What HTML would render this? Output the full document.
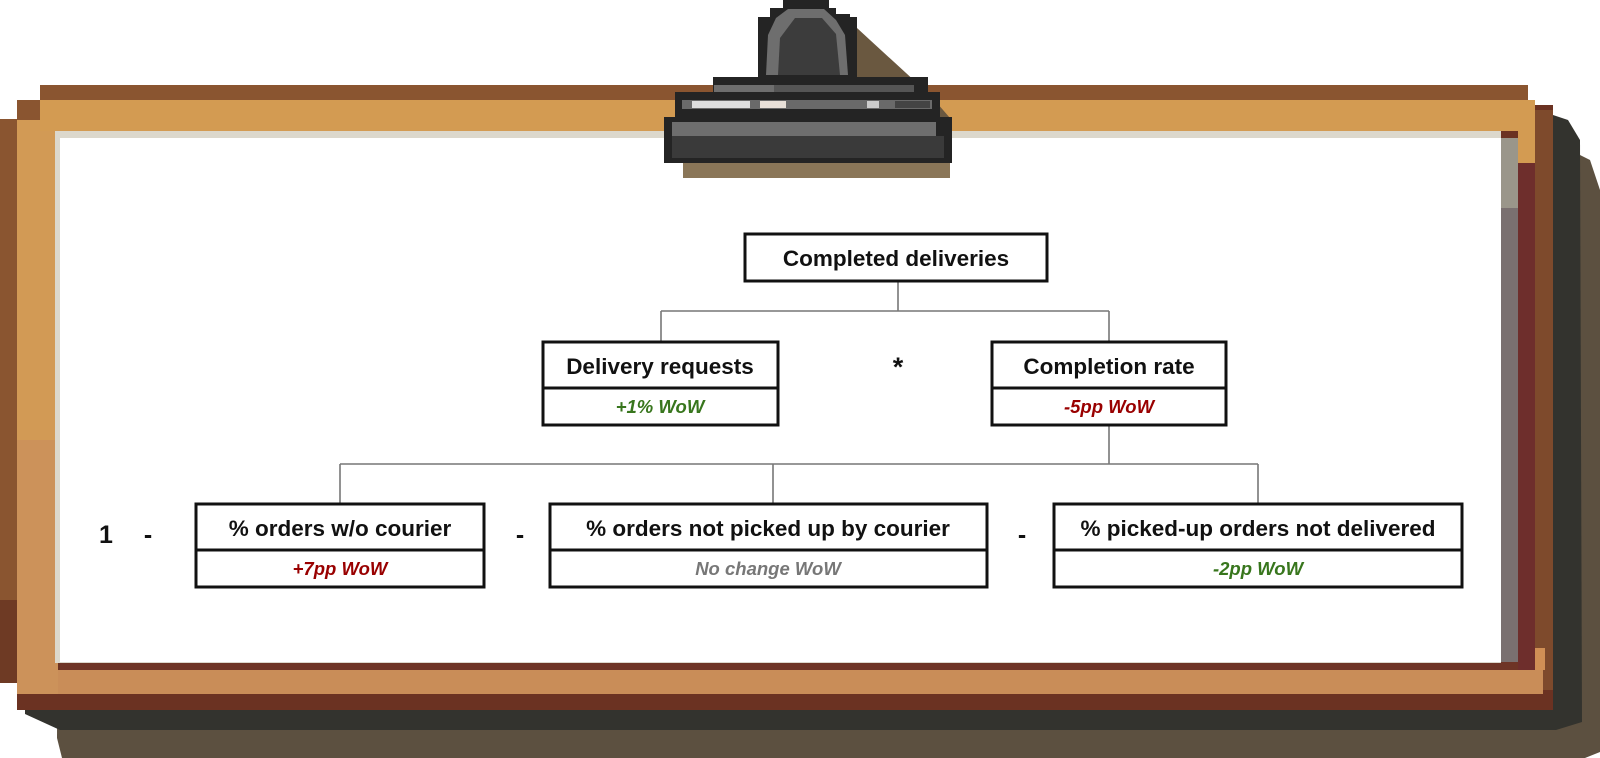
<!DOCTYPE html>
<html><head><meta charset="utf-8"><style>
html,body{margin:0;padding:0;background:#fff;}
svg{display:block;}
text{font-family:"Liberation Sans",Arial,sans-serif;}
.t{font-size:22.5px;font-weight:bold;fill:#111;text-anchor:middle;}
.w{font-size:18.5px;font-weight:bold;font-style:italic;text-anchor:middle;}
.b{fill:#fff;stroke:#111;stroke-width:3;}
.c{stroke:#777;stroke-width:1.6;fill:none;}
</style></head><body>
<svg width="1600" height="758" viewBox="0 0 1600 758" xmlns="http://www.w3.org/2000/svg">
<!-- frame back layers -->
<path d="M1570 150 L1590 160 L1600 190 L1600 752 L1585 758 L62 758 L57 738 L60 160 Z" fill="#5c5040"/>
<path d="M40 115 L1553 115 L1568 120 L1580 140 L1582 722 L1556 730 L60 730 L25 714 L25 140 Z" fill="#33332e"/>
<rect x="17" y="105" width="1536" height="605" fill="#6b3222"/>
<rect x="1535" y="110" width="18" height="580" fill="#7e4a2c"/>
<!-- left dark brown -->
<rect x="0" y="119" width="17" height="564" fill="#8a5530"/>
<rect x="0" y="600" width="17" height="83" fill="#6e3a24"/>
<rect x="17" y="100" width="23" height="20" fill="#8a5530"/>
<rect x="40" y="85" width="1488" height="15" fill="#8a5530"/>
<!-- orange -->
<rect x="17" y="120" width="41" height="572" fill="#d29a55"/>
<rect x="40" y="100" width="1495" height="31" fill="#d39b52"/>
<rect x="1518" y="100" width="17" height="63" fill="#d39b52"/>
<rect x="40" y="670" width="1503" height="24" fill="#c98d58"/>
<rect x="1535" y="648" width="10" height="22" fill="#d08f55"/>
<rect x="17" y="440" width="41" height="254" fill="#cc925a"/>
<rect x="1518" y="163" width="17" height="507" fill="#6e2e2c"/>
<rect x="60" y="662" width="1458" height="8" fill="#6e3426"/>
<!-- cream & gray -->
<rect x="55" y="131" width="1446" height="532" fill="#dcd8cc"/>
<rect x="1501" y="138" width="17" height="524" fill="#7a7070"/>
<rect x="1501" y="138" width="17" height="70" fill="#9a968a"/>
<rect x="60" y="138" width="1441" height="524" fill="#ffffff"/>

<!-- clip -->
<path d="M857 28 L870 40 L930 95 L950 118 L950 165 L683 178 L683 163 Z" fill="#6a5840"/>
<rect x="683" y="160" width="267" height="18" fill="#8a7658"/>
<path d="M783 0 L829 0 L829 8 L836 8 L836 14 L850 14 L850 17 L857 17 L857 77 L928 77 L928 92 L940 92 L940 117 L952 117 L952 163 L664 163 L664 117 L675 117 L675 92 L713 92 L713 77 L758 77 L758 17 L770 17 L770 8 L783 8 Z" fill="#242424"/>
<path d="M788 9 L824 9 L836 20 L845 35 L848 75 L766 75 L768 35 L776 18 Z" fill="#6e6e6e"/>
<path d="M795 18 L822 18 L836 34 L840 75 L778 75 L780 38 Z" fill="#3c3c3c"/>
<rect x="714" y="85" width="200" height="7" fill="#555"/>
<rect x="714" y="85" width="60" height="7" fill="#6e6e6e"/>
<rect x="682" y="100" width="250" height="9" fill="#6a6a6a"/>
<rect x="692" y="101" width="58" height="7" fill="#ddd"/>
<rect x="760" y="101" width="26" height="7" fill="#e8e0d8"/>
<rect x="867" y="101" width="12" height="7" fill="#ccc"/>
<rect x="895" y="101" width="35" height="7" fill="#444"/>
<rect x="672" y="122" width="264" height="14" fill="#6e6e6e"/>
<rect x="672" y="136" width="272" height="22" fill="#3a3a3a"/>

<!-- connectors -->
<path class="c" d="M898 281 V311 M661 311 H1109 M661 311 V342 M1109 311 V342"/>
<path class="c" d="M1109 425 V464 M340 464 H1258 M340 464 V504 M773 464 V504 M1258 464 V504"/>

<!-- boxes -->
<rect class="b" x="745" y="234" width="302" height="47"/>
<text class="t" x="896" y="266">Completed deliveries</text>

<rect class="b" x="543" y="342" width="235" height="83"/>
<line x1="543" y1="388" x2="778" y2="388" stroke="#111" stroke-width="3"/>
<text class="t" x="660" y="374">Delivery requests</text>
<text class="w" x="660" y="413" fill="#38761d">+1% WoW</text>

<text x="898" y="376" style="font-size:27px;font-weight:bold;text-anchor:middle;fill:#111">*</text>

<rect class="b" x="992" y="342" width="234" height="83"/>
<line x1="992" y1="388" x2="1226" y2="388" stroke="#111" stroke-width="3"/>
<text class="t" x="1109" y="374">Completion rate</text>
<text class="w" x="1109" y="413" fill="#990000">-5pp WoW</text>

<text x="106" y="543" style="font-size:25px;font-weight:bold;text-anchor:middle;fill:#111">1</text>
<text x="148" y="543" style="font-size:25px;font-weight:bold;text-anchor:middle;fill:#111">-</text>
<text x="520" y="543" style="font-size:25px;font-weight:bold;text-anchor:middle;fill:#111">-</text>
<text x="1022" y="543" style="font-size:25px;font-weight:bold;text-anchor:middle;fill:#111">-</text>

<rect class="b" x="196" y="504" width="288" height="83"/>
<line x1="196" y1="550" x2="484" y2="550" stroke="#111" stroke-width="3"/>
<text class="t" x="340" y="536">% orders w/o courier</text>
<text class="w" x="340" y="575" fill="#990000">+7pp WoW</text>

<rect class="b" x="550" y="504" width="437" height="83"/>
<line x1="550" y1="550" x2="987" y2="550" stroke="#111" stroke-width="3"/>
<text class="t" x="768" y="536">% orders not picked up by courier</text>
<text class="w" x="768" y="575" fill="#777">No change WoW</text>

<rect class="b" x="1054" y="504" width="408" height="83"/>
<line x1="1054" y1="550" x2="1462" y2="550" stroke="#111" stroke-width="3"/>
<text class="t" x="1258" y="536">% picked-up orders not delivered</text>
<text class="w" x="1258" y="575" fill="#38761d">-2pp WoW</text>
</svg>
</body></html>
